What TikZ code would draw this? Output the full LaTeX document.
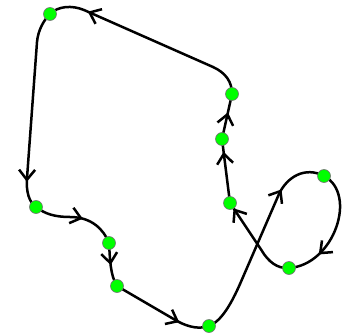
\documentclass[tikz,border=0pt]{standalone}
\usetikzlibrary{arrows.meta,decorations.markings}
\begin{document}
\begin{tikzpicture}[x=1pt,y=-1pt,
  seg/.style={draw=black,line width=2.5pt,line cap=round,line join=round},
  arrat/.style={postaction={decorate,decoration={markings,
     mark=at position #1 with {\arrow[line width=2.5pt,line cap=round,line join=round]{Straight Barb[length=10pt,width=16pt]}}}}},
  dot/.style={circle,fill=green,draw=black!55,line width=0.6pt,minimum size=13pt,inner sep=0pt}]
\useasboundingbox (0,0) rectangle (347,334);
% positions
\coordinate (A) at (50,14);
\coordinate (B) at (232,94);
\coordinate (C) at (222,139);
\coordinate (D) at (230,203);
\coordinate (E) at (324,176);
\coordinate (F) at (289,268);
\coordinate (G) at (209,326);
\coordinate (H) at (117,286);
\coordinate (I) at (109,243);
\coordinate (J) at (36,207);
% connectors
\path[seg,arrat=0.81] (B) .. controls (232,82) and (226,73) .. (213,67) -- (84,10) .. controls (72,5) and (58,6) .. (A);
\path[seg,arrat=0.86] (A) .. controls (44,20) and (38,30) .. (37,42) -- (27,178) .. controls (26,192) and (29,202) .. (J);
\path[seg,arrat=0.57] (J) .. controls (45,214) and (55,217) .. (70,217) .. controls (92,217) and (104,230) .. (I);
\path[seg,arrat=0.5] (I) .. controls (110,258) and (110,275) .. (H);
\path[seg,arrat=0.7] (H) -- (177,321) .. controls (190,328) and (200,329) .. (G);
\path[seg,arrat=0.76] (G) .. controls (222,321) and (232,302) .. (240,284) -- (279,194) .. controls (287,177) and (305,166) .. (E);
\path[seg,arrat=0.73] (E) .. controls (358,194) and (334,265) .. (F);
\path[seg,arrat=0.93] (F) .. controls (277,269) and (268,261) .. (262,251) -- (D);
\path[seg,arrat=0.8] (D) -- (C);
\path[seg,arrat=0.59] (C) -- (B);
% dots
\foreach \p in {A,B,C,D,E,F,G,H,I,J} \node[dot] (n\p) at (\p) {};
\end{tikzpicture}
\end{document}
